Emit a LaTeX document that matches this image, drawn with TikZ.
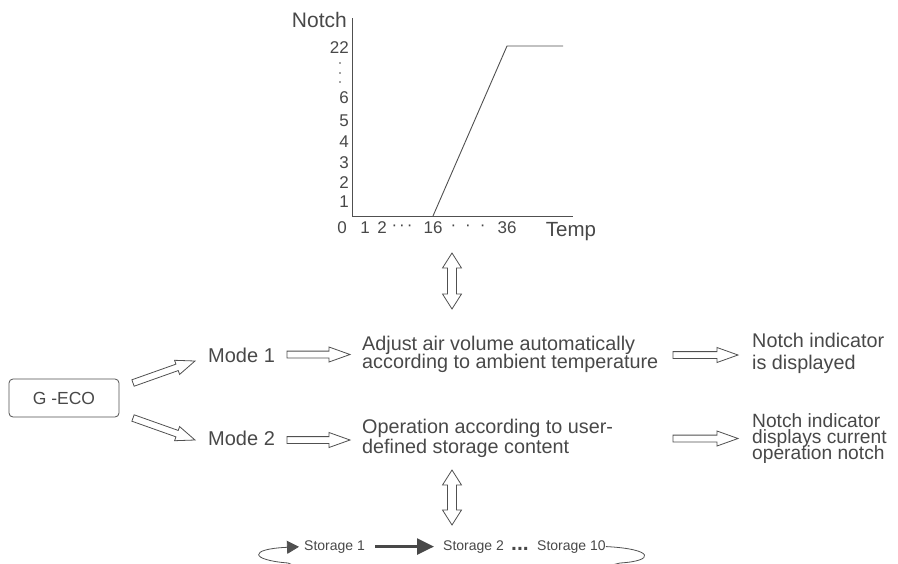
\documentclass[tikz,border=0pt]{standalone}
\usepackage{fontspec}
\setmainfont{Liberation Sans}
\usetikzlibrary{arrows.meta,calc}
\definecolor{ink}{RGB}{72,72,72}
\definecolor{edge}{RGB}{80,80,80}
\lineskiplimit=-50pt
\newcommand\hollowarrow[5]{%
  \draw[hol] let \p1=(#1), \p2=(#2), \n1={atan2(\y2-\y1,\x2-\x1)}, \n2={veclen(\x2-\x1,\y2-\y1)} in
  [shift={(\p1)}, rotate=\n1]
  (0,-#3) -- ({\n2-#5},-#3) -- ({\n2-#5},-#4) -- (\n2,0) -- ({\n2-#5},#4) -- ({\n2-#5},#3) -- (0,#3) -- cycle;}
\newcommand\hollowdouble[5]{%
  \draw[hol] let \p1=(#1), \p2=(#2), \n1={atan2(\y2-\y1,\x2-\x1)}, \n2={veclen(\x2-\x1,\y2-\y1)} in
  [shift={(\p1)}, rotate=\n1]
  (0,0) -- (#5,-#4) -- (#5,-#3) -- ({\n2-#5},-#3) -- ({\n2-#5},-#4) -- (\n2,0) -- ({\n2-#5},#4) -- ({\n2-#5},#3) -- (#5,#3) -- (#5,#4) -- cycle;}
\tikzset{
  hol/.style={draw=edge, line width=0.8pt, fill=white, line join=miter},
  txt/.style={text=ink, inner sep=0pt, align=left},
  big/.style={font=\fontsize{20}{18}\selectfont},
  tick/.style={text=ink, inner sep=0pt, font=\fontsize{17}{17}\selectfont},
  stor/.style={text=ink, inner sep=0pt, font=\fontsize{14}{14}\selectfont},
  axis/.style={draw=edge, line width=0.9pt},
}
\begin{document}
\begin{tikzpicture}[x=1pt, y=-1pt]
\useasboundingbox (0,0) rectangle (898,563);

% ---- chart ----
\draw[axis] (352,18) -- (352,216) -- (573,216);
\draw[axis] (433,216) -- (507,46) -- (563,46);
\node[txt, anchor=east, font=\fontsize{21}{21}\selectfont] (notch) at (347,20) {Notch};
\node[tick, anchor=east] (y22) at (349,48) {22};
\foreach \yy in {63,73,82} \fill[ink] (340,\yy) circle (0.9);
\node[tick, anchor=east] (y6) at (349,98) {6};
\node[tick, anchor=east] (y5) at (349,121) {5};
\node[tick, anchor=east] (y4) at (349,142) {4};
\node[tick, anchor=east] (y3) at (349,163) {3};
\node[tick, anchor=east] (y2) at (349,183) {2};
\node[tick, anchor=east] (y1) at (349,202) {1};
\node[tick] (x0) at (342,228) {0};
\node[tick] (x1) at (365,228) {1};
\node[tick] (x2) at (382,228) {2};
\node[tick] (xd1) at (402,228) {·\kern2pt·\kern2pt·};
\node[tick] (x16) at (433,228) {16};
\node[tick] (xd2) at (468,228) {·\kern9pt·\kern9pt·};
\node[tick] (x36) at (507,228) {36};
\node[txt, font=\fontsize{20.5}{20}\selectfont] (temp) at (571,232) {Temp};

% ---- G-ECO and modes ----
\node[draw=edge, line width=0.8pt, rounded corners=4pt, minimum width=110pt, minimum height=38pt,
      text=ink, font=\fontsize{17.5}{18}\selectfont] (geco) at (64,398) {G -ECO};
\node[txt, big, anchor=west] (mode1) at (208,355) {Mode 1};
\node[txt, big, anchor=west] (mode2) at (208,438.5) {Mode 2};

\node[txt, anchor=west, font=\fontsize{19.8}{18}\selectfont] (adj) at (362,354.7)
  {Adjust air volume automatically\\according to ambient temperature};
\node[txt, anchor=west, font=\fontsize{19.8}{20}\selectfont] (oper) at (362,438)
  {Operation according to user-\\defined storage content};
\node[txt, anchor=west, font=\fontsize{19.8}{22}\selectfont] (ind1) at (752,353.5)
  {Notch indicator\\is displayed};
\node[txt, anchor=west, font=\fontsize{19.2}{16}\selectfont] (ind2) at (752,439)
  {Notch indicator\\displays current\\operation notch};

% ---- hollow arrows ----
\coordinate (d1a) at (133,383); \coordinate (d1b) at (195,361);
\coordinate (d2a) at (133,418); \coordinate (d2b) at (195,440);
\coordinate (h1a) at (287,354.5); \coordinate (h1b) at (350,354.5);
\coordinate (h2a) at (287,440); \coordinate (h2b) at (350,440);
\coordinate (h3a) at (673,355); \coordinate (h3b) at (738,355);
\coordinate (h4a) at (673,438.5); \coordinate (h4b) at (738,438.5);
\coordinate (v1a) at (452,253); \coordinate (v1b) at (452,309);
\coordinate (v2a) at (452,470); \coordinate (v2b) at (452,525);
\hollowarrow{d1a}{d1b}{3.4}{7.5}{19}
\hollowarrow{d2a}{d2b}{3.4}{7.5}{19}
\hollowarrow{h1a}{h1b}{3.4}{7.5}{21}
\hollowarrow{h2a}{h2b}{3.4}{7.5}{21}
\hollowarrow{h3a}{h3b}{3.4}{7.5}{21}
\hollowarrow{h4a}{h4b}{3.4}{7.5}{21}
\hollowdouble{v1a}{v1b}{4.5}{9.5}{15}
\hollowdouble{v2a}{v2b}{4.5}{9.5}{15}

% ---- storage row ----
\node[stor, anchor=base west] (s1) at (304,550) {Storage 1};
\node[stor, anchor=base west] (s2) at (443,550) {Storage 2};
\node[txt, anchor=base west, font=\fontsize{21}{21}\selectfont\bfseries] (sd) at (511,550) {...};
\node[stor, anchor=base west] (s10) at (537,550) {Storage 10};
\draw[draw=ink, line width=2.6pt, -{Triangle[length=17pt,width=16pt]}, shorten <=10pt, shorten >=9pt]
  (s1.east) -- (s2.west);
\begin{scope}
\clip (0,0) rectangle (898,563);
\draw[draw=edge, line width=0.8pt, -{Triangle[length=12pt,width=13pt]}, shorten >=5pt]
  (s10.east) .. controls (655,549) and (655,561) .. (620,563) -- (600,568) -- (300,568) -- (288,563)
  .. controls (250,560) and (248,549) .. (s1.west);
\end{scope}
\end{tikzpicture}
\end{document}
